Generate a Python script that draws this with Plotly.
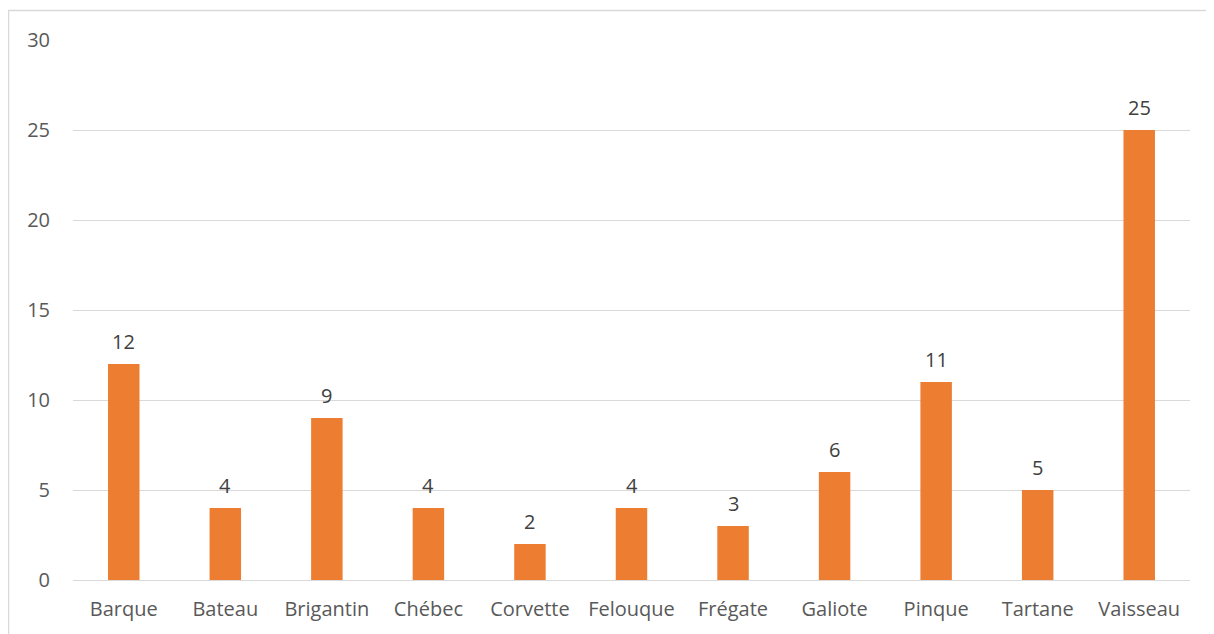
import plotly.graph_objects as go

# ship types and counts
navires = ["Barque", "Bateau", "Brigantin", "Chébec", "Corvette", "Felouque",
           "Frégate", "Galiote", "Pinque", "Tartane", "Vaisseau"]
nombres = [12, 4, 9, 4, 2, 4, 3, 6, 11, 5, 25]
y_ticks = [0, 5, 10, 15, 20, 25, 30]

fig = go.Figure()
fig.add_trace(go.Bar(x=navires, y=nombres, marker=dict(color="#ED7D31", line=dict(width=0))))

# value labels above bars
for n, v in zip(navires, nombres):
    fig.add_annotation(x=n, y=v, text=str(v), showarrow=False, yanchor="bottom",
                       yshift=7, font=dict(size=20, color="#404040"))

# chart border (Excel-style frame); page body has an 8px margin
fig.add_shape(type="rect", xref="paper", yref="paper",
              x0=(0.5 - 65) / 1117, x1=1.05, y0=-0.2, y1=(540 + 32 - 2.5) / 540,
              line=dict(color="#D9D9D9", width=1.5), layer="below")

fig.update_layout(
    width=1206, height=626,
    margin=dict(l=65, r=24, t=32, b=54),
    plot_bgcolor="white", paper_bgcolor="white",
    bargap=0.69, showlegend=False,
    font=dict(family="Open Sans, sans-serif", size=20, color="#595959"),
)
fig.update_xaxes(showgrid=False, showline=True, linecolor="#D9D9D9", linewidth=1,
                 ticks="", ticklabelstandoff=11)
fig.update_yaxes(range=[0, 30], tickvals=y_ticks, showgrid=True, gridcolor="#D9D9D9",
                 gridwidth=1, zeroline=False, showline=False, ticks="",
                 ticklabelstandoff=22)

fig.write_html("out.html")
